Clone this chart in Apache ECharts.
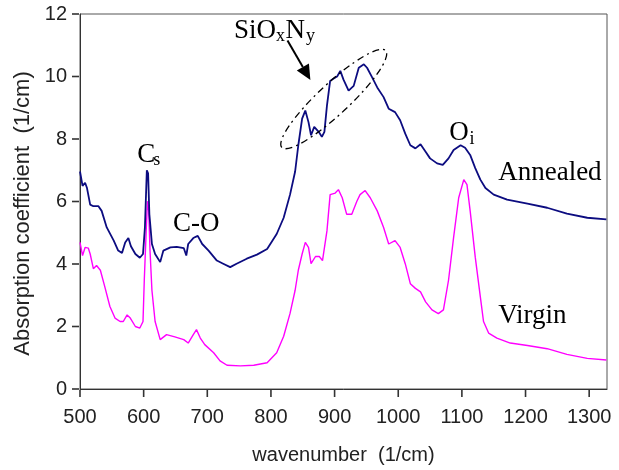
<!DOCTYPE html>
<html>
<head>
<meta charset="utf-8">
<title>Absorption spectra</title>
<script src="https://cdn.jsdelivr.net/npm/echarts@6/dist/echarts.min.js"></script>
<style>
  html, body { margin: 0; padding: 0; background: #fff; }
  #main { width: 619px; height: 470px; }
</style>
</head>
<body>
<div id="main"></div>
<script>
// wavenumber (1/cm) and absorption coefficient (1/cm)
var annealedWn = [500, 504, 508, 511, 516, 521, 529, 534, 542, 553, 560, 566, 571, 576, 580, 587, 594, 599, 602, 605,
  607, 609, 613, 618, 626, 631, 642, 652, 663, 667, 670, 678, 685, 692, 702, 715, 725, 736, 746, 762,
  778, 794, 809, 820, 830, 838, 843, 849, 854, 859, 863, 868, 875, 880, 884, 888, 893, 898, 904, 909,
  914, 922, 930, 938, 946, 951, 959, 967, 977, 985, 995, 1003, 1011, 1019, 1027, 1035, 1043, 1050, 1061, 1070,
  1079, 1087, 1098, 1105, 1113, 1121, 1129, 1137, 1150, 1171, 1203, 1234, 1265, 1297, 1327];
var annealedVal = [6.96, 6.5, 6.6, 6.43, 5.9, 5.85, 5.85, 5.7, 5.17, 4.75, 4.43, 4.35, 4.69, 4.83, 4.57, 4.32, 4.2, 4.32, 5.17, 7.0,
  6.9, 5.59, 4.64, 4.32, 4.06, 4.43, 4.53, 4.55, 4.51, 4.27, 4.64, 4.83, 4.9, 4.64, 4.43, 4.11, 4.01, 3.9, 4.01, 4.17,
  4.3, 4.48, 4.96, 5.48, 6.22, 6.96, 7.8, 8.65, 8.91, 8.54, 8.12, 8.39, 8.23, 8.07, 8.23, 9.07, 9.86, 9.93, 10.0, 10.18,
  9.9, 9.55, 9.7, 10.28, 10.39, 10.28, 9.97, 9.65, 9.34, 8.97, 8.86, 8.6, 8.17, 7.8, 7.7, 7.83, 7.59, 7.38, 7.22, 7.17,
  7.38, 7.65, 7.8, 7.72, 7.49, 7.07, 6.7, 6.43, 6.22, 6.06, 5.93, 5.8, 5.61, 5.48, 5.43];

var virginWn = [500, 504, 508, 513, 516, 521, 526, 532, 539, 547, 555, 563, 568, 574, 579, 587, 594, 599, 601, 604,
  606, 608, 610, 613, 618, 626, 636, 649, 663, 670, 678, 683, 689, 696, 710, 720, 731, 752, 773, 794,
  809, 820, 830, 838, 843, 849, 854, 859, 863, 870, 876, 881, 888, 893, 901, 906, 912, 919, 927, 935,
  940, 948, 956, 967, 977, 985, 995, 1003, 1011, 1019, 1027, 1035, 1043, 1053, 1063, 1071, 1079, 1087, 1095, 1103,
  1108, 1113, 1121, 1129, 1134, 1142, 1155, 1176, 1203, 1234, 1265, 1297, 1327];
var virginVal = [4.69, 4.27, 4.53, 4.51, 4.32, 3.85, 3.95, 3.8, 3.27, 2.64, 2.27, 2.16, 2.16, 2.37, 2.27, 2.0, 1.95, 2.16, 3.48, 5.06,
  6.01, 5.7, 4.43, 3.16, 2.16, 1.58, 1.74, 1.67, 1.58, 1.47, 1.74, 1.9, 1.63, 1.42, 1.16, 0.9, 0.76, 0.74, 0.76, 0.84,
  1.16, 1.69, 2.42, 3.16, 3.8, 4.32, 4.69, 4.53, 4.01, 4.24, 4.24, 4.11, 5.06, 6.22, 6.27, 6.38, 6.12, 5.59, 5.59, 6.01,
  6.22, 6.35, 6.12, 5.7, 5.17, 4.64, 4.75, 4.53, 4.01, 3.37, 3.22, 3.11, 2.79, 2.53, 2.41, 2.53, 3.48, 4.85, 6.12, 6.7,
  6.54, 5.7, 4.22, 2.95, 2.16, 1.79, 1.63, 1.47, 1.39, 1.29, 1.11, 0.98, 0.93];

var xTicks = [500, 600, 700, 800, 900, 1000, 1100, 1200, 1300];
var yTicks = [0, 2, 4, 6, 8, 10, 12];

function pairs(xs, ys) {
  return xs.map(function (x, i) { return [x, ys[i]]; });
}

var sans = '"Liberation Sans", Arial, sans-serif';
var serif = '"Liberation Serif", "Times New Roman", serif';

var chart = echarts.init(document.getElementById('main'));
chart.setOption({
  animation: false,
  grid: {
    left: 80, right: 12, top: 14, bottom: 77,
    show: true, borderColor: '#555', borderWidth: 1
  },
  xAxis: {
    type: 'value',
    min: 500, max: 1328, interval: 100,
    name: 'wavenumber  (1/cm)',
    nameLocation: 'middle',
    nameGap: 56,
    nameTextStyle: { fontFamily: sans, fontSize: 20, color: '#222' },
    axisLine: { show: true, onZero: false, lineStyle: { color: '#333', width: 1 } },
    axisTick: { show: false },
    axisLabel: {
      fontFamily: sans, fontSize: 20, color: '#222', margin: 18,
      formatter: function (v) { return xTicks.indexOf(v) >= 0 ? String(v) : ''; }
    },
    splitLine: { show: false }
  },
  yAxis: {
    type: 'value',
    min: 0, max: 12, interval: 2,
    name: 'Absorption coefficient  (1/cm)',
    nameLocation: 'middle',
    nameGap: 44,
    nameTextStyle: { fontFamily: sans, fontSize: 22, color: '#222', padding: [0, 24, 0, 0] },
    axisLine: { show: true, lineStyle: { color: '#333', width: 1 } },
    axisTick: { show: false },
    axisLabel: {
      fontFamily: sans, fontSize: 20, color: '#222', margin: 13,
      formatter: function (v) { return yTicks.indexOf(v) >= 0 ? String(v) : ''; }
    },
    splitLine: { show: false }
  },
  series: [
    {
      name: 'Virgin',
      type: 'line',
      data: pairs(virginWn, virginVal),
      showSymbol: false,
      lineStyle: { color: '#ff00ff', width: 1.4 },
      z: 2
    },
    {
      name: 'Annealed',
      type: 'line',
      data: pairs(annealedWn, annealedVal),
      showSymbol: false,
      lineStyle: { color: '#0c0c80', width: 1.8 },
      z: 3
    }
  ]
});

var px = function (p) { return chart.convertToPixel({ gridIndex: 0 }, p); };
var graphics = [];

// outward tick marks, placed through the axes' scales
var tickLen = 8;
xTicks.forEach(function (v) {
  var p = px([v, 0]);
  graphics.push({
    type: 'line',
    shape: { x1: p[0], y1: p[1] + 1, x2: p[0], y2: p[1] + tickLen },
    style: { stroke: '#333', lineWidth: 1.6 },
    z: 50
  });
});
yTicks.forEach(function (v) {
  var p = px([500, v]);
  graphics.push({
    type: 'line',
    shape: { x1: p[0] - tickLen, y1: p[1], x2: p[0] - 1, y2: p[1] },
    style: { stroke: '#333', lineWidth: 1.6 },
    z: 50
  });
});

// annotations, anchored in data coordinates (left edge, baseline)
var notes = [
  { text: 'C', at: [590, 7.22], size: 27 },
  { text: 's', at: [615, 7.14], size: 18 },
  { text: 'C-O', at: [646, 5.01], size: 27 },
  { text: 'SiO', at: [742, 11.21], size: 27 },
  { text: 'x', at: [808, 11.12], size: 18 },
  { text: 'N', at: [823, 11.21], size: 27 },
  { text: 'y', at: [855, 11.12], size: 18 },
  { text: 'O', at: [1080, 7.93], size: 27 },
  { text: 'i', at: [1112, 7.83], size: 18 },
  { text: 'Annealed', at: [1157, 6.66], size: 27 },
  { text: 'Virgin', at: [1157, 2.07], size: 27 }
];
notes.forEach(function (n) {
  var p = px(n.at);
  graphics.push({
    type: 'text',
    x: p[0], y: p[1] - 0.3 * n.size,
    style: { text: n.text, font: n.size + 'px ' + serif, fill: '#000', align: 'left', verticalAlign: 'middle' },
    z: 10
  });
});

// arrow pointing at the SiOxNy band
var a0 = px([826, 11.15]);
var a1 = px([862, 9.89]);
var dx = a1[0] - a0[0], dy = a1[1] - a0[1];
var len = Math.sqrt(dx * dx + dy * dy);
var ux = dx / len, uy = dy / len;
var headLen = 15, headW = 7;
var bx = a1[0] - ux * headLen, by = a1[1] - uy * headLen;
graphics.push({
  type: 'line',
  shape: { x1: a0[0], y1: a0[1], x2: bx, y2: by },
  style: { stroke: '#000', lineWidth: 2 },
  z: 10
});
graphics.push({
  type: 'polygon',
  shape: { points: [[a1[0], a1[1]], [bx - uy * headW, by + ux * headW], [bx + uy * headW, by - ux * headW]] },
  style: { fill: '#000' },
  z: 10
});

// dash-dot ellipse around the band
var ec = px([898.7, 9.28]);
graphics.push({
  type: 'ellipse',
  x: ec[0], y: ec[1],
  rotation: 43 * Math.PI / 180,
  shape: { cx: 0, cy: 0, rx: 71, ry: 15.5 },
  style: { fill: 'none', stroke: '#000', lineWidth: 1.3, lineDash: [7, 4, 2, 4] },
  z: 10
});

chart.setOption({ graphic: graphics });
</script>
</body>
</html>
